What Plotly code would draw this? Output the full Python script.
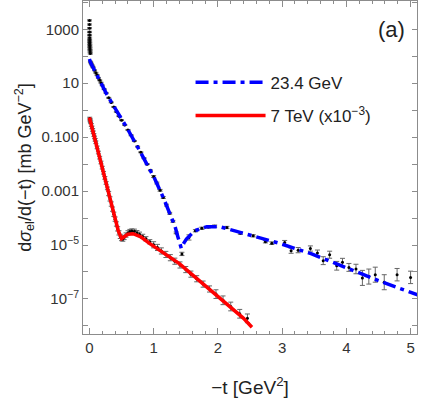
import plotly.graph_objects as go
import numpy as np

# model curves
t_curve_234 = [0, 0.02, 0.1, 0.27, 0.4, 0.58, 0.8, 1.02, 1.15, 1.26, 1.33, 1.38, 1.43,
               1.47, 1.51, 1.64, 1.83, 2.03, 2.34, 2.95, 3.46, 3.98, 4.5, 5.11]
ds_curve_234 = [79.4, 57.5, 24.0, 3.89, 1.17, 0.229, 0.0263, 2.75e-3, 5.75e-4, 1.41e-4,
                5.13e-5, 1.91e-5, 7.59e-6, 1.17e-5, 1.66e-5, 3.39e-5, 4.79e-5, 4.79e-5,
                2.95e-5, 1.17e-5, 4.68e-6, 1.48e-6, 4.79e-7, 1.41e-7]

t_curve_7 = [0, 0.05, 0.1, 0.15, 0.2, 0.25, 0.3, 0.35, 0.4, 0.45, 0.5, 0.55, 0.6, 0.68,
             0.8, 0.94, 1.1, 1.25, 1.4, 1.6, 1.8, 2.0, 2.2, 2.4, 2.53]
ds_curve_7 = [0.537, 0.186, 0.0646, 0.0219, 7.41e-3, 2.45e-3, 7.94e-4, 2.51e-4, 8.51e-5,
              3.31e-5, 1.74e-5, 2.19e-5, 2.51e-5, 2.63e-5, 2.00e-5, 1.12e-5, 6.31e-6,
              3.72e-6, 2.04e-6, 7.94e-7, 3.16e-7, 1.26e-7, 5.01e-8, 1.91e-8, 8.91e-9]

# data points, 23.4 GeV
t_data_234 = [0.0010, 0.0012, 0.0015, 0.0018, 0.0022, 0.0026, 0.0031, 0.0037, 0.0044,
              0.0052, 0.0062, 0.0075, 0.009, 0.011, 0.0135,
              0.016, 0.02, 0.03, 0.04, 0.05, 0.06, 0.08, 0.10, 0.12, 0.14, 0.16, 0.18,
              0.20, 0.23, 0.26, 0.30, 0.34, 0.38, 0.42, 0.46, 0.50, 0.55, 0.60, 0.65,
              0.70, 0.75, 0.80, 0.85, 0.90, 0.95, 1.00, 1.05, 1.10, 1.15, 1.20, 1.25,
              1.30, 1.35, 1.44, 1.55, 1.65, 1.75, 1.85, 1.95, 2.14, 2.35, 2.55, 2.74,
              2.84, 3.04, 3.14, 3.25, 3.44, 3.55, 3.64, 3.74, 3.85, 3.94, 4.04, 4.15,
              4.25, 4.35, 4.45, 4.59, 4.79, 5.00]
ds_data_234 = [2140, 1510, 1100, 800, 620, 490, 400, 340, 295, 257, 224, 195, 170, 148, 126,
               63.1, 58.9, 52.5, 46.8, 41.7, 38.0, 30.2, 24.5, 20.0, 15.8, 12.9, 10.5,
               8.32, 6.03, 4.37, 2.88, 1.95, 1.32, 0.871, 0.603, 0.427, 0.282, 0.186, 0.117,
               0.0724, 0.0447, 0.0275, 0.0166, 0.0100, 5.89e-3, 3.47e-3, 2.00e-3, 1.07e-3,
               5.75e-4, 3.02e-4, 1.51e-4, 7.59e-5, 2.82e-5, 4.68e-6, 1.91e-5, 3.39e-5,
               4.17e-5, 4.68e-5, 5.01e-5, 4.47e-5, 2.75e-5, 2.19e-5, 1.32e-5, 1.17e-5,
               1.23e-5, 6.17e-6, 6.46e-6, 7.41e-6, 5.01e-6, 2.63e-6, 4.37e-6, 1.70e-6,
               2.29e-6, 1.48e-6, 1.29e-6, 6.03e-7, 6.76e-7, 7.94e-7, 4.17e-7, 7.94e-7, 6.31e-7]
rel_err_234 = [0.05] * 15 + [0.04] * 30 + [0.08] * 8 + [0.15, 0.25, 0.1, 0.1, 0.1, 0.1] + \
              [0.1, 0.1, 0.1, 0.1, 0.12, 0.2, 0.25, 0.25, 0.25, 0.3, 0.4, 0.35, 0.45, 0.4,
               0.4, 0.5, 0.9, 0.9, 0.9, 0.9, 0.7, 0.7]

# data points, 7 TeV (scaled by 1e-3)
t_data_7 = [0.005, 0.010, 0.015, 0.02, 0.03, 0.04, 0.05, 0.06, 0.07, 0.08, 0.09, 0.10,
            0.12, 0.14, 0.16, 0.18, 0.20, 0.22, 0.24, 0.26, 0.28, 0.30, 0.32, 0.34, 0.36,
            0.38, 0.40, 0.42, 0.44, 0.46, 0.48, 0.50, 0.52, 0.54, 0.57, 0.60, 0.63, 0.66,
            0.70, 0.74, 0.78, 0.83, 0.88, 0.94, 1.00, 1.06, 1.12, 1.19, 1.26, 1.33, 1.41,
            1.50, 1.58, 1.67, 1.77, 1.87, 1.97, 2.08, 2.20, 2.34, 2.46]
ds_data_7 = [0.490, 0.437, 0.389, 0.355, 0.282, 0.229, 0.186, 0.151, 0.120, 0.0977, 0.0794,
             0.0646, 0.0417, 0.0269, 0.0174, 0.0115, 7.41e-3, 4.79e-3, 3.09e-3, 2.00e-3,
             1.26e-3, 8.13e-4, 5.13e-4, 3.31e-4, 2.14e-4, 1.38e-4, 9.12e-5, 6.03e-5,
             3.98e-5, 2.82e-5, 2.09e-5, 1.74e-5, 1.66e-5, 1.91e-5, 2.34e-5, 2.82e-5,
             3.16e-5, 3.31e-5, 3.24e-5, 2.88e-5, 2.51e-5, 2.09e-5, 1.70e-5, 1.32e-5,
             1.02e-5, 8.13e-6, 6.03e-6, 4.47e-6, 3.39e-6, 2.51e-6, 1.82e-6, 1.23e-6,
             8.32e-7, 5.62e-7, 3.55e-7, 2.34e-7, 1.51e-7, 8.91e-8, 5.25e-8, 2.82e-8, 1.91e-8]
rel_err_7 = [0.12] * 21 + [0.2] * 23 + [0.3] * 12 + [0.45] * 5

y_ticks = [1e-7, 1e-5, 1e-3, 1e-1, 10, 1000]
y_ticktext = ['10<sup>\u22127</sup>', '10<sup>\u22125</sup>', '0.001', '0.100', '10', '1000']
y_minor = [1e-8, 1e-6, 1e-4, 1e-2, 1, 100, 1e4]

fig = go.Figure()


def add_data(t, ds, rel):
    ds = np.array(ds)
    rel = np.array(rel)
    fig.add_trace(go.Scatter(
        x=t, y=ds, mode='markers', showlegend=False,
        marker=dict(color='black', size=3),
        error_y=dict(type='data', array=ds * rel, arrayminus=ds * rel / (1 + rel),
                     color='#666666', thickness=1, width=2.5),
    ))


add_data(t_data_234, ds_data_234, rel_err_234)
add_data(t_data_7, ds_data_7, rel_err_7)

fig.add_trace(go.Scatter(
    x=t_curve_234, y=ds_curve_234, mode='lines', name='23.4 GeV', legendgroup='a',
    line=dict(color='#0000ff', width=3.5, dash='13px,5px,4px,5px'),
))
fig.add_trace(go.Scatter(
    x=t_curve_7, y=ds_curve_7, mode='lines', name='7 TeV (x10<sup>\u22123</sup>)',
    legendgroup='b', line=dict(color='#ff0000', width=3.5),
))

axis_font = dict(family='Liberation Sans, Arial, sans-serif', size=15, color='#333333')
fig.update_layout(
    width=424, height=398,
    margin=dict(l=83, r=7, t=1, b=64, autoexpand=False),
    plot_bgcolor='white', paper_bgcolor='white',
    font=dict(family='Liberation Sans, Arial, sans-serif', color='#222222'),
    showlegend=True,
    legend=dict(x=0.322, y=0.705, xanchor='left', yanchor='middle',
                font=dict(size=17, color='#222222'), bgcolor='rgba(0,0,0,0)',
                itemwidth=70, tracegroupgap=8, traceorder='grouped'),
    annotations=[dict(text='(a)', x=0.97, y=0.957, xref='paper', yref='paper',
                      showarrow=False, font=dict(size=22, color='#222222'))],
)
fig.update_xaxes(
    range=[-0.1, 5.1], showgrid=False, zeroline=False,
    showline=True, linecolor='#8c8c8c', linewidth=1, mirror='ticks',
    ticks='inside', ticklen=6, tickcolor='#8c8c8c', tickvals=[0, 1, 2, 3, 4, 5],
    minor=dict(ticks='inside', ticklen=3, dtick=0.2, tick0=0, tickcolor='#8c8c8c'),
    tickfont=axis_font,
    title=dict(text='\u2212t [GeV<sup>2</sup>]', font=dict(size=19, color='#222222'), standoff=26),
)
fig.update_yaxes(
    type='log', range=[-8.3, 4.05], showgrid=False, zeroline=False,
    showline=True, linecolor='#8c8c8c', linewidth=1, mirror='ticks',
    ticks='inside', ticklen=5, tickcolor='#8c8c8c',
    tickvals=y_ticks, ticktext=y_ticktext,
    minor=dict(ticks='inside', ticklen=5, tickvals=y_minor, tickcolor='#8c8c8c'),
    tickfont=axis_font,
    title=dict(text='d<i>\u03c3</i><sub>el</sub>/d(\u2212t) [mb GeV<sup>\u22122</sup>]',
               font=dict(size=18, color='#222222'), standoff=5),
)

fig.write_html('out.html', config={'displayModeBar': False},
               post_script="document.body.style.margin='0';")
